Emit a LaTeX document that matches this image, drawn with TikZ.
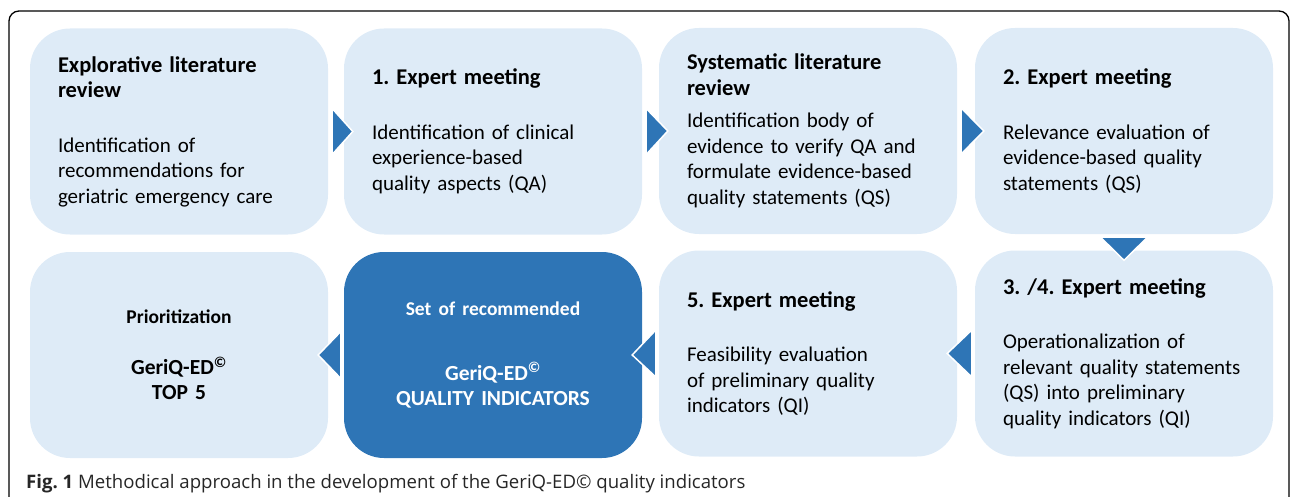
\documentclass[tikz,border=0pt]{standalone}
\usepackage{fontspec}
\setmainfont{Carlito}
\newfontfamily\capfont{Open Sans}
\usetikzlibrary{calc}
\frenchspacing
\definecolor{boxblue}{RGB}{222,235,247}
\definecolor{stepblue}{RGB}{46,117,182}
\tikzset{
	stepbox/.style={rectangle, rounded corners=40pt, fill=boxblue, minimum width=298pt, minimum height=206pt, inner sep=0pt, text width=242pt, align=left, font=\fontsize{21}{25.5}\selectfont},
	resultbox/.style={stepbox, fill=stepblue, text=white, align=center, font=\bfseries\fontsize{21.5}{25}\selectfont},
	steparrow/.style={fill=stepblue, draw=white, line width=1.5pt},
}
\newcommand{\steptitle}[1]{{\bfseries\fontsize{22.5}{26}\selectfont #1}}
\newcommand{\titlegap}{\\[29pt]}

\begin{document}
\begin{tikzpicture}[x=1pt, y=-1pt]
	\useasboundingbox (0,0) rectangle (1290,497);
	\clip (0,0) rectangle (1290,497);
	\draw[line width=1.3pt, rounded corners=10pt] (9,530) -- (9,11) -- (1289,11) -- (1289,530);
	% upper row
	\node[stepbox] (b1) at (179,131.5) {\steptitle{Explorative literature}\\\steptitle{review}\titlegap Identification of\\recommendations for\\geriatric emergency care};
	\node[stepbox] (b2) at (493,131.5) {\steptitle{1. Expert meeting}\titlegap Identification of clinical\\experience-based\\quality aspects (QA)};
	\node[stepbox] (b3) at (808,131) {\steptitle{Systematic literature}\\\steptitle{review}\\[7pt]Identification body of\\evidence to verify QA and\\formulate evidence-based\\quality statements (QS)};
	\node[stepbox] (b4) at (1124,131) {\steptitle{2. Expert meeting}\titlegap Relevance evaluation of\\evidence-based quality\\statements (QS)};
	% lower row
	\node[stepbox] (b5) at (1124,353.5) {\steptitle{3. /4. Expert meeting}\titlegap Operationalization of\\relevant quality statements\\(QS) into preliminary\\quality indicators (QI)};
	\node[stepbox] (b6) at (808,353.5) {\steptitle{5. Expert meeting}\titlegap Feasibility evaluation\\of preliminary quality\\indicators (QI)};
	\node[resultbox] (b7) at (493,355) {{\fontsize{19.5}{22}\selectfont Set of recommended}\\[40pt]GeriQ-ED\textsuperscript{©}\\QUALITY INDICATORS};
	\node[resultbox, fill=boxblue, text=black] (b8) at (179,355) {{\fontsize{19.5}{22}\selectfont Prioritization}\\[26pt]GeriQ-ED\textsuperscript{©}\\TOP 5};
	% arrows
	\draw[steparrow] ($(b1.east)+(4,-23)$) -- ($(b2.west)+(9,0)$) -- ($(b1.east)+(4,23)$) -- cycle;
	\draw[steparrow] ($(b2.east)+(4,-23)$) -- ($(b3.west)+(9,0)$) -- ($(b2.east)+(4,23)$) -- cycle;
	\draw[steparrow] ($(b3.east)+(4,-23)$) -- ($(b4.west)+(9,0)$) -- ($(b3.east)+(4,23)$) -- cycle;
	\draw[steparrow] ($(b4.south)+(-23.5,3)$) -- ($(b5.north)+(0,10)$) -- ($(b4.south)+(23.5,3)$) -- cycle;
	\draw[steparrow] ($(b5.west)+(-3,-23.5)$) -- ($(b6.east)+(-10,0)$) -- ($(b5.west)+(-3,23.5)$) -- cycle;
	\draw[steparrow] ($(b6.west)+(-3,-23.5)$) -- ($(b7.east)+(-10,0)$) -- ($(b6.west)+(-3,23.5)$) -- cycle;
	\draw[steparrow] ($(b7.west)+(-3,-23.5)$) -- ($(b8.east)+(-10,0)$) -- ($(b7.west)+(-3,23.5)$) -- cycle;
	\node[anchor=base west, inner sep=0pt, font=\capfont\fontsize{18.6}{20}\selectfont, text=black!85] (cap) at (26,488) {\textbf{Fig. 1} Methodical approach in the development of the GeriQ-ED© quality indicators};
\end{tikzpicture}
\end{document}
